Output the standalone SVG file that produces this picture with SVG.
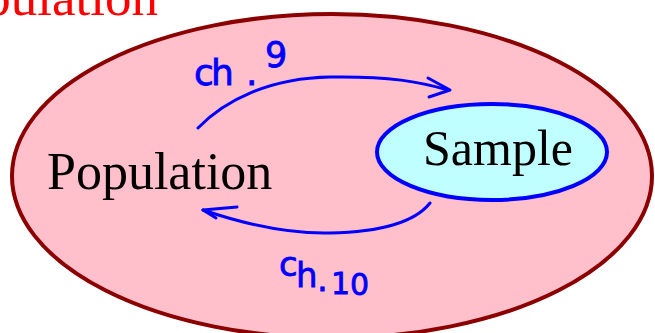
<svg xmlns="http://www.w3.org/2000/svg" width="655" height="333" viewBox="0 0 655 333">
  <style>
    .serif { font-family: "Liberation Serif", "Times New Roman", serif; }
    .hand { font-family: "DejaVu Sans", "Liberation Sans", sans-serif; fill: #0000ff; stroke: #0000ff; stroke-width: 0.8; }
    .stroke-hand { fill: none; stroke: #0000ff; stroke-width: 3; stroke-linecap: round; stroke-linejoin: round; }
  </style>

  <rect width="655" height="333" fill="#ffffff"/>

  <!-- heading, partly off the left edge -->
  <g id="heading">
    <text class="serif" x="158" y="15" font-size="53" fill="#ff0000" text-anchor="end">Population</text>
  </g>

  <!-- population set -->
  <g id="population">
    <ellipse cx="332" cy="176" rx="320" ry="162" fill="#ffc0cb" stroke="#8b0000" stroke-width="4"/>
    <text class="serif" x="47" y="189" font-size="52" fill="#000000">Population</text>
  </g>

  <!-- sample subset -->
  <g id="sample">
    <ellipse cx="492" cy="152" rx="115" ry="48" fill="#c0ffff" stroke="#0000ff" stroke-width="4"/>
    <text class="serif" x="423" y="165" font-size="50" fill="#000000">Sample</text>
  </g>

  <!-- hand-drawn arrows -->
  <g id="connectors">
    <path class="stroke-hand" d="M198,128 C225,100 270,78 330,77 S420,82 448,90"/>
    <path class="stroke-hand" d="M428,78 L450,90 L429,97"/>
    <path class="stroke-hand" d="M430,203 C415,222 380,232 330,233 C290,234 250,226 203,210"/>
    <path class="stroke-hand" d="M237,207 L203,210 L216,218"/>
  </g>

  <!-- hand-written chapter labels -->
  <g id="label-ch9">
    <text class="hand" font-size="36" x="194 211 246" y="85">ch.<tspan x="265" y="67" font-size="35">9</tspan></text>
  </g>
  <g id="label-ch10">
    <text class="hand" font-size="34"><tspan x="279" y="276">c</tspan><tspan x="296" y="287">h</tspan><tspan x="317" y="291">.</tspan><tspan x="331" y="294" font-size="30">1</tspan><tspan x="350" y="295" font-size="30">0</tspan></text>
  </g>
</svg>
